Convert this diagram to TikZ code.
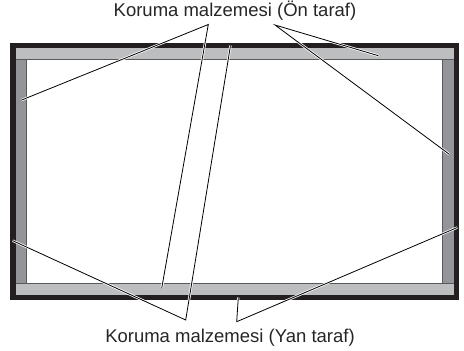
\documentclass[tikz,border=0pt]{standalone}
\usepackage{fontspec}
\setmainfont{Liberation Sans}
\definecolor{bordercol}{HTML}{231F20}
\definecolor{lightstrip}{HTML}{BCBEC0}
\definecolor{darkstrip}{HTML}{939598}
\definecolor{edgecol}{HTML}{58595B}
\tikzset{
  leader/.style={draw=black, line width=0.8pt, line join=miter,
    preaction={draw=white, line width=2.4pt}},
  labeltext/.style={inner sep=0pt, anchor=base, font=\fontsize{18.5}{22}\selectfont, text=black!85}
}
\begin{document}
\begin{tikzpicture}[x=1pt,y=-1pt]
\useasboundingbox (0,0) rectangle (464,351);
% frame
\fill[bordercol] (10,42.7) rectangle (459.3,300.3);
\fill[lightstrip] (15.7,48.3) rectangle (453.5,295.3);
\fill[darkstrip] (15.7,59.7) rectangle (453.5,283.3);
\filldraw[fill=white, draw=edgecol, line width=0.8pt] (26.5,59.7) rectangle (442.7,283.3);
\draw[edgecol, line width=0.6pt] (15.7,59.7) -- (26.5,59.7) (442.7,59.7) -- (453.5,59.7)
  (15.7,283.3) -- (26.5,283.3) (442.7,283.3) -- (453.5,283.3);
% labels
\node[labeltext] (toplabel) at (235,16.7) {Koruma malzemesi (Ön taraf)};
\node[labeltext] (botlabel) at (230,342) {Koruma malzemesi (Yan taraf)};
% apex points
\coordinate (ta1) at (208.3,24.5);
\coordinate (ta2) at (275,25);
\coordinate (ba1) at (185.7,320);
\coordinate (ba2) at (236.7,321.7);
% end points
\coordinate (pls) at (21.7,100);
\coordinate (pbs) at (161.7,288.3);
\coordinate (pts) at (378.3,55.7);
\coordinate (prs) at (449.3,154.3);
\coordinate (plb) at (12.7,240.7);
\coordinate (ptb) at (230.5,45.5);
\coordinate (pbb) at (238.3,297.5);
\coordinate (prb) at (457.3,227.5);
% leaders
\draw[leader] (pls) -- (ta1) -- (pbs);
\draw[leader] (pts) -- (ta2) -- (prs);
\draw[leader] (plb) -- (ba1) -- (ptb);
\draw[leader] (pbb) -- (ba2) -- (prb);
\end{tikzpicture}
\end{document}
